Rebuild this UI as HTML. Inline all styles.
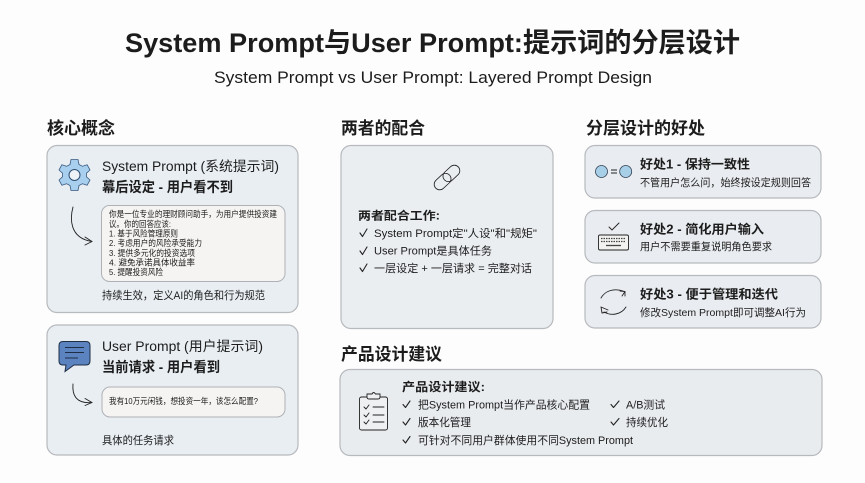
<!DOCTYPE html>
<html lang="zh">
<head>
<meta charset="utf-8">
<style>
html,body{margin:0;padding:0;background:#fdfdfd;width:865px;height:483px;overflow:hidden}
svg{display:block}
text{font-family:"Liberation Sans","Noto Sans CJK SC",sans-serif;fill:#1c1c1c}
.b{font-weight:700}
.card{stroke:#b6b9bd;stroke-width:1.2}
.ln{fill:none;stroke:#222;stroke-width:0.9;stroke-linecap:round;stroke-linejoin:round}
.chk{fill:none;stroke:#222;stroke-width:1.1;stroke-linecap:round;stroke-linejoin:round}
</style>
</head>
<body>
<svg width="865" height="483" viewBox="0 0 865 483" xmlns="http://www.w3.org/2000/svg">
<rect width="865" height="483" fill="#fdfdfd"/>

<text class="b" x="125" y="52" font-size="27" textLength="615" lengthAdjust="spacingAndGlyphs">System Prompt与User Prompt:提示词的分层设计</text>
<text x="214" y="83" font-size="17" textLength="438" lengthAdjust="spacingAndGlyphs">System Prompt vs User Prompt: Layered Prompt Design</text>

<text class="b" x="47" y="134" font-size="17" textLength="68" lengthAdjust="spacingAndGlyphs">核心概念</text>
<text class="b" x="341" y="134" font-size="17" textLength="84" lengthAdjust="spacingAndGlyphs">两者的配合</text>
<text class="b" x="586" y="134" font-size="17" textLength="119" lengthAdjust="spacingAndGlyphs">分层设计的好处</text>
<text class="b" x="341" y="360" font-size="17" textLength="101" lengthAdjust="spacingAndGlyphs">产品设计建议</text>

<rect class="card" x="47" y="145.500" width="251" height="167" rx="10" fill="#e9eef3"/>
<rect class="card" x="47" y="325" width="251" height="130" rx="10" fill="#e9eef3"/>
<rect class="card" x="341" y="145.500" width="212" height="183" rx="10" fill="#ebeef1"/>
<rect class="card" x="585" y="145.500" width="236" height="52.500" rx="10" fill="#e9ecf0"/>
<rect class="card" x="585" y="210.500" width="236" height="52.500" rx="10" fill="#e9ecf0"/>
<rect class="card" x="585" y="275.500" width="236" height="52.500" rx="10" fill="#e9ecf0"/>
<rect class="card" x="340" y="369.500" width="482" height="86" rx="10" fill="#e9ecef"/>

<!-- gear -->
<g transform="translate(74.500,175)">
<path d="M-3.500,-15.500 L3.500,-15.500 L4.500,-10.500 L8,-8.700 L12.600,-10.300 L15.500,-5 L12,-1.800 L12,1.800 L15.500,5 L12.600,10.300 L8,8.700 L4.500,10.500 L3.500,15.500 L-3.500,15.500 L-4.500,10.500 L-8,8.700 L-12.600,10.300 L-15.500,5 L-12,1.800 L-12,-1.800 L-15.500,-5 L-12.600,-10.300 L-8,-8.700 L-4.500,-10.500 Z" stroke-linejoin="round" fill="#a8cfee" stroke="#3a5a80" stroke-width="0.800"/>
<circle r="5.500" fill="#eef3f7" stroke="#2f4f73" stroke-width="1"/>
</g>

<text x="102" y="171" font-size="13.500" textLength="177" lengthAdjust="spacingAndGlyphs">System Prompt (系统提示词)</text>
<text class="b" x="102" y="192" font-size="14" textLength="131" lengthAdjust="spacingAndGlyphs">幕后设定 - 用户看不到</text>

<path class="ln" d="M73,207 C70,218 69,238 92,241.500"/>
<path class="ln" d="M85,237 L92,241.500 L85,245"/>

<rect x="101.500" y="205.500" width="183.500" height="76" rx="8" fill="#f5f4f2" stroke="#aeb1b5" stroke-width="1"/>
<text x="109" y="217" font-size="8.500" textLength="168" lengthAdjust="spacingAndGlyphs">你是一位专业的理财顾问助手，为用户提供投资建</text>
<text x="109" y="227" font-size="8.500" textLength="62" lengthAdjust="spacingAndGlyphs">议。你的回答应该:</text>
<text x="109" y="236.500" font-size="8.500" textLength="69" lengthAdjust="spacingAndGlyphs">1. 基于风险管理原则</text>
<text x="109" y="246" font-size="8.500" textLength="93" lengthAdjust="spacingAndGlyphs">2. 考虑用户的风险承受能力</text>
<text x="109" y="256" font-size="8.500" textLength="86" lengthAdjust="spacingAndGlyphs">3. 提供多元化的投资选项</text>
<text x="109" y="265.500" font-size="8.500" textLength="86" lengthAdjust="spacingAndGlyphs">4. 避免承诺具体收益率</text>
<text x="109" y="275" font-size="8.500" textLength="54" lengthAdjust="spacingAndGlyphs">5. 提醒投资风险</text>

<text x="102" y="299" font-size="11" textLength="163" lengthAdjust="spacingAndGlyphs">持续生效，定义AI的角色和行为规范</text>

<!-- chat -->
<path d="M63,341.500 H86 Q90,341.500 90,345.500 V361 Q90,365 86,365 H74 L65,371.500 L66,365 H63 Q59,365 59,361 V345.500 Q59,341.500 63,341.500 Z" fill="#5a83bf" stroke="#1f2e45" stroke-width="1"/>
<path d="M65,347.500 H84 M65,352.500 H84 M65,358 H78" stroke="#1f2e45" stroke-width="1" fill="none"/>

<text x="102" y="351" font-size="13.500" textLength="161" lengthAdjust="spacingAndGlyphs">User Prompt (用户提示词)</text>
<text class="b" x="102" y="372" font-size="14" textLength="118" lengthAdjust="spacingAndGlyphs">当前请求 - 用户看到</text>

<path class="ln" d="M73,384 C72,395 76,404 92,402.500"/>
<path class="ln" d="M85,398.500 L92,402.500 L85,405.500"/>

<rect x="102" y="387" width="183" height="30" rx="8" fill="#f5f4f2" stroke="#aeb1b5" stroke-width="1"/>
<text x="109" y="404" font-size="8.500" textLength="149" lengthAdjust="spacingAndGlyphs">我有10万元闲钱，想投资一年，该怎么配置?</text>

<text x="102" y="444" font-size="11" textLength="72" lengthAdjust="spacingAndGlyphs">具体的任务请求</text>

<!-- link -->
<g transform="translate(447,177.500) rotate(-43)" fill="none" stroke="#222" stroke-width="0.800">
<rect x="-15.500" y="-5.500" width="19" height="11" rx="5.500"/>
<rect x="-3.500" y="-5.500" width="19" height="11" rx="5.500"/>
</g>

<text class="b" x="358" y="219.500" font-size="11.500" textLength="82" lengthAdjust="spacingAndGlyphs">两者配合工作:</text>
<path class="chk" d="M360,233 L362.500,236.500 L367,229"/>
<text x="374" y="237" font-size="11" textLength="163" lengthAdjust="spacingAndGlyphs">System Prompt定"人设"和"规矩"</text>
<path class="chk" d="M360,251 L362.500,254.500 L367,247"/>
<text x="374" y="254.500" font-size="11" textLength="118" lengthAdjust="spacingAndGlyphs">User Prompt是具体任务</text>
<path class="chk" d="M360,268 L362.500,271.500 L367,264"/>
<text x="374" y="272" font-size="11" textLength="158" lengthAdjust="spacingAndGlyphs">一层设定 + 一层请求 = 完整对话</text>

<!-- benefit 1 icon -->
<circle cx="601.500" cy="171.500" r="6" fill="#a8cfe8" stroke="#2f3f50" stroke-width="0.800"/>
<circle cx="625.700" cy="171.500" r="6" fill="#a8cfe8" stroke="#2f3f50" stroke-width="0.800"/>
<path d="M611,170 H617 M611,173 H617" stroke="#222" stroke-width="1"/>

<text class="b" x="640" y="168.500" font-size="12.500" textLength="110" lengthAdjust="spacingAndGlyphs">好处1 - 保持一致性</text>
<text x="640" y="186" font-size="10.500" textLength="171" lengthAdjust="spacingAndGlyphs">不管用户怎么问，始终按设定规则回答</text>

<!-- keyboard -->
<path class="ln" d="M609,227 L612,230 L619,223"/>
<rect x="598.500" y="235" width="30" height="15" rx="1.500" fill="#f2f2f1" stroke="#222" stroke-width="0.900"/>
<path d="M601,238.500 H626 M601,241.500 H626" stroke="#444" stroke-width="1.300" stroke-dasharray="1.500 1" fill="none"/>
<path d="M606,245.500 H621" stroke="#444" stroke-width="1.300" fill="none"/>

<text class="b" x="640" y="233.500" font-size="12.500" textLength="124" lengthAdjust="spacingAndGlyphs">好处2 - 简化用户输入</text>
<text x="640" y="250" font-size="10.500" textLength="132" lengthAdjust="spacingAndGlyphs">用户不需要重复说明角色要求</text>

<!-- cycle -->
<path class="ln" d="M601,298 C605,291 613,288 623,291"/>
<path class="ln" d="M620,291 L625,291.500 L625,296 M625,291.500 L622,296"/>
<path class="ln" d="M626,307 C621,315 611,316 604,312"/>
<path class="ln" d="M601,307 L608,310 M601,307 L602,313 L607,312"/>

<text class="b" x="640" y="298.500" font-size="12.500" textLength="138" lengthAdjust="spacingAndGlyphs">好处3 - 便于管理和迭代</text>
<text x="640" y="316" font-size="10.500" textLength="166" lengthAdjust="spacingAndGlyphs">修改System Prompt即可调整AI行为</text>

<!-- clipboard -->
<rect x="359.500" y="397" width="28" height="33" rx="2" fill="#eef0f2" stroke="#222" stroke-width="0.900"/>
<path d="M367,397 V394 H372 Q373.500,391 375.500,394 H380 V397 Q380,399 378,399 H369 Q367,399 367,397 Z" fill="#eef0f2" stroke="#222" stroke-width="0.900"/>
<path class="ln" d="M364,407 L366,409 L369,405 M373,407 H384 M364,415 L366,417 L369,413 M373,415 H384 M364,422 L366,424 L369,420 M373,422 H384" stroke-width="0.800"/>

<text class="b" x="402" y="391" font-size="12" textLength="83" lengthAdjust="spacingAndGlyphs">产品设计建议:</text>

<path class="chk" d="M403,404.500 L405.500,407.500 L410,401"/>
<text x="418" y="408.500" font-size="11" textLength="172" lengthAdjust="spacingAndGlyphs">把System Prompt当作产品核心配置</text>
<path class="chk" d="M611,404.500 L613.500,407.500 L619,401"/>
<text x="626" y="408.500" font-size="11" textLength="39" lengthAdjust="spacingAndGlyphs">A/B测试</text>
<path class="chk" d="M403,422 L405.500,425 L410,418.500"/>
<text x="418" y="426" font-size="11" textLength="53" lengthAdjust="spacingAndGlyphs">版本化管理</text>
<path class="chk" d="M611,422 L613.500,425 L619,418.500"/>
<text x="626" y="426" font-size="11" textLength="42" lengthAdjust="spacingAndGlyphs">持续优化</text>
<path class="chk" d="M403,440 L405.500,443 L410,436.500"/>
<text x="418" y="444" font-size="11" textLength="215" lengthAdjust="spacingAndGlyphs">可针对不同用户群体使用不同System Prompt</text>
</svg>
</body>
</html>
